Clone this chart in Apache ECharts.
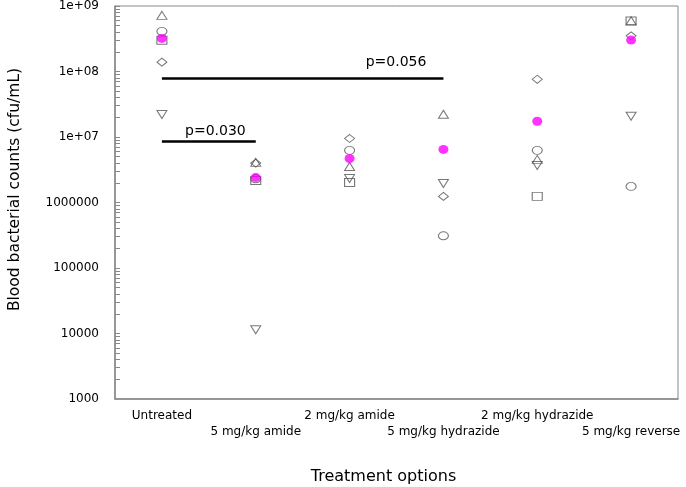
<!DOCTYPE html>
<html>
<head>
<meta charset="utf-8">
<script src="https://cdn.jsdelivr.net/npm/echarts@6/dist/echarts.min.js"></script>
<style>
  html, body { margin: 0; padding: 0; background: #fff; }
  #chart { width: 686px; height: 487px; }
</style>
</head>
<body>
<div id="chart"></div>
<script>
// groups on the x axis
var categories = ['Untreated', '5 mg/kg amide', '2 mg/kg amide', '5 mg/kg hydrazide', '2 mg/kg hydrazide', '5 mg/kg reverse'];
// one array per marker shape (cfu/mL), null = no point
var triangleUp = [7.2e8, 4.1e6, 3.55e6, 2.22e7, 4.55e6, 5.95e8];
var circle = [4.1e8, 2.3e6, 6.25e6, 3.1e5, 6.25e6, 1.76e6];
var square = [3.0e8, 2.17e6, 2.02e6, null, 1.24e6, 5.9e8];
var diamond = [1.39e8, 4.0e6, 9.5e6, 1.24e6, 7.6e7, 3.5e8];
var triangleDown = [2.2e7, 1.14e4, 2.33e6, 1.95e6, 3.68e6, 2.07e7];
var means = [3.2e8, 2.4e6, 4.7e6, 6.47e6, 1.74e7, 3.02e8];
// significance bars
var pLabels = ['p=0.030', 'p=0.056'];
var pLevels = [8.6e6, 7.9e7];
var pFrom = [0, 0];
var pTo = [1, 3];

// ticks at 1..9 of every decade
var logTicks = [];
for (var e = 3; e <= 9; e++) {
    for (var k = 1; k <= 9; k++) {
        if (e === 9 && k > 1) break;
        logTicks.push(k * Math.pow(10, e));
    }
}

var font = 'DejaVu Sans';
var axisGray = '#888';

function hollow(name, data, symbol, rotate) {
    return {
        name: name,
        type: 'scatter',
        data: data,
        symbol: symbol,
        symbolSize: [10, 8],
        symbolRotate: rotate || 0,
        itemStyle: { color: 'rgba(0,0,0,0)', borderColor: '#555', borderWidth: 1 },
        emphasis: { disabled: true },
        z: 2
    };
}

var pLineData = [];
for (var i = 0; i < pLabels.length; i++) {
    pLineData.push([
        { coord: [categories[pFrom[i]], pLevels[i]],
          label: { formatter: pLabels[i], distance: i === 0 ? [10, 3] : [17, 9] } },
        { coord: [categories[pTo[i]], pLevels[i]] }
    ]);
}

var chart = echarts.init(document.getElementById('chart'));
chart.setOption({
    animation: false,
    grid: {
        left: 115, right: 8, top: 6, bottom: 88,
        show: true, borderColor: axisGray, borderWidth: 1,
        containLabel: false, outerBoundsMode: 'none'
    },
    xAxis: {
        type: 'category',
        data: categories,
        boundaryGap: true,
        name: 'Treatment options',
        nameLocation: 'middle',
        nameGap: 70,
        nameTextStyle: { fontFamily: font, fontSize: 16, color: '#000', padding: [0, 26, 0, 0] },
        axisLine: { lineStyle: { color: axisGray, width: 1.5 } },
        axisTick: { alignWithLabel: true, inside: true, length: 5, lineStyle: { color: axisGray } },
        axisLabel: {
            interval: 0,
            margin: 9,
            fontFamily: font,
            fontSize: 12,
            lineHeight: 16,
            color: '#000',
            formatter: function (v, idx) { return idx % 2 ? '\n' + v : v; }
        },
        splitLine: { show: false }
    },
    yAxis: {
        type: 'log',
        logBase: 10,
        min: 1000,
        max: 1e9,
        name: 'Blood bacterial counts (cfu/mL)',
        nameLocation: 'middle',
        nameGap: 92,
        nameTextStyle: { fontFamily: font, fontSize: 15.5, color: '#000', padding: [0, 0, 0, 26] },
        axisLine: { show: true, lineStyle: { color: axisGray, width: 1.5 } },
        axisTick: { show: true, inside: true, length: 5, customValues: logTicks, lineStyle: { color: axisGray } },
        axisLabel: {
            margin: 16,
            fontFamily: font,
            fontSize: 12,
            color: '#000',
            formatter: function (v) {
                var ex = Math.round(Math.log10(v));
                return ex >= 7 ? '1e+0' + ex : String(Math.round(v));
            }
        },
        splitLine: { show: false }
    },
    series: [
        hollow('triangle', triangleUp, 'triangle'),
        hollow('circle', circle, 'circle'),
        hollow('square', square, 'rect'),
        hollow('diamond', diamond, 'diamond'),
        hollow('inverted triangle', triangleDown, 'triangle', 180),
        {
            name: 'mean',
            type: 'scatter',
            data: means,
            symbol: 'circle',
            symbolSize: [10, 9],
            itemStyle: { color: '#ff00ff' },
            emphasis: { disabled: true },
            z: 3,
            markLine: {
                silent: true,
                symbol: 'none',
                lineStyle: { color: '#000', width: 2.5, type: 'solid' },
                label: {
                    show: true,
                    position: 'insideEndTop',
                    fontFamily: font,
                    fontSize: 14,
                    color: '#000'
                },
                emphasis: { disabled: true },
                data: pLineData
            }
        }
    ]
});
</script>
</body>
</html>
